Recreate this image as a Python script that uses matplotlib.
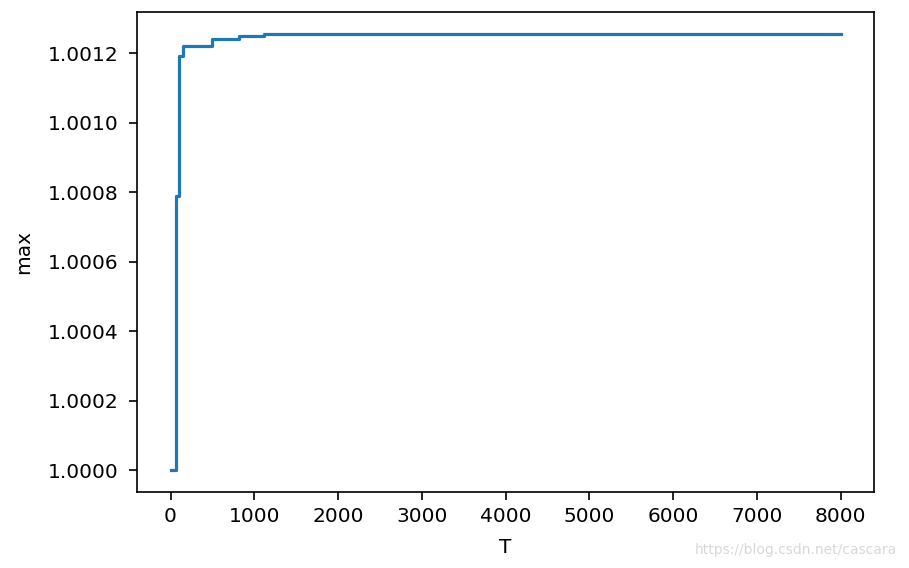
import numpy as np
from matplotlib import pyplot as plt

# step points (T where max changes, new max value)
T = [0, 60, 100, 155, 490, 815, 1120, 8000]
max_val = [1.0, 1.000788, 1.001191, 1.001222, 1.001240, 1.001249, 1.001256, 1.001256]

plt.rcParams['font.size'] = 14.5
fig = plt.figure(figsize=(9.09, 5.68), dpi=100)
ax = fig.add_axes([137/909, 1-492/568, (874-137)/909, (492-12)/568])
ax.plot(T, max_val, drawstyle="steps-post", color="#1f77b4", linewidth=2.3)
ax.set_xlabel("T", labelpad=9)
ax.set_ylabel("max", labelpad=10)
ax.set_xticks(np.arange(0, 8001, 1000))
ax.set_yticks(np.arange(1.0, 1.00121, 0.0002))
ax.set_yticklabels(["%.4f" % v for v in np.arange(1.0, 1.00121, 0.0002)])
ax.tick_params(length=5.5, width=1.2, pad=5)
ax.tick_params(axis="y", pad=8)
for s in ax.spines.values():
    s.set_linewidth(1.2)
fig.text(0.987, 0.02, "https://blog.csdn.net/cascara", ha="right", va="bottom",
         color="#d8d8d8", fontsize=10)
fig.savefig("out.png")
